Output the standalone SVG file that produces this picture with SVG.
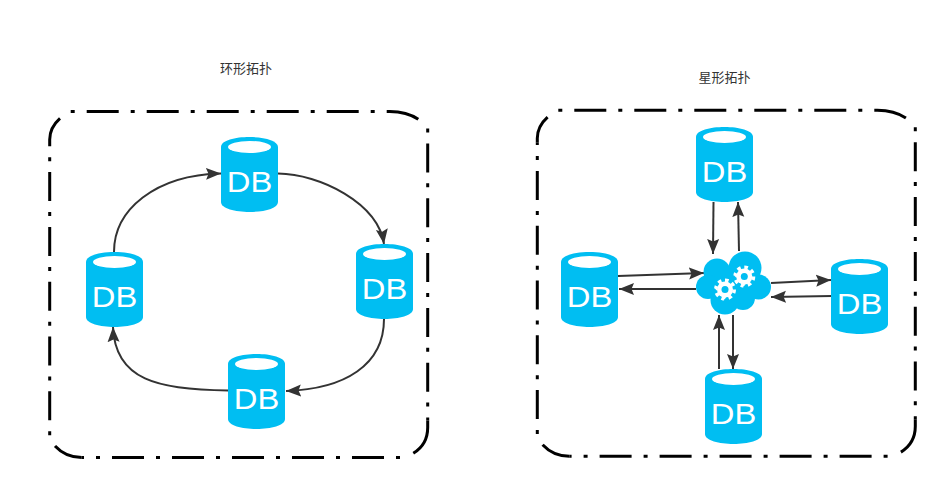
<svg xmlns="http://www.w3.org/2000/svg" width="949" height="491" viewBox="0 0 949 491">
<style>
.fh,.fv,.fc{fill:none;stroke:#000;stroke-width:3}
.fh{stroke-dasharray:4 12 32 12}
.fv{stroke-dasharray:4 11 29 10.800}
.body{fill:#00BEF2}
.hole{fill:#fff}
.dbt{font-family:"Liberation Sans",Arial,sans-serif;font-size:29px;fill:#fff;text-anchor:middle}
.cap{font-family:"Noto Sans CJK SC","Liberation Sans",sans-serif;font-size:13px;fill:#333;text-anchor:middle}
.edge{fill:none;stroke:#333;stroke-width:2;marker-end:url(#ah)}
</style>
<defs>
<marker id="ah" markerUnits="userSpaceOnUse" markerWidth="17" markerHeight="14" refX="15" refY="7" orient="auto"><path d="M0,1 L15,7 L0,13 L2.500,7 Z" fill="#333"/></marker>
<g id="db"><path class="body" d="M0,10 C0,-3.300 57,-3.300 57,10 V65 C57,78.300 0,78.300 0,65 Z"/><ellipse class="hole" cx="28.500" cy="10" rx="21.500" ry="6"/><text class="dbt" transform="translate(28.500,54.500) scale(1.130,1)">DB</text></g>
<g id="fr">
<path class="fh" d="M21,0 H337"/>
<path class="fc" d="M337,0 H340 Q357,0 368.600,7.800"/>
<path class="fv" d="M378,17 V309"/>
<path class="fc" d="M378,309 V316 Q378,333 363.600,341.800"/>
<path class="fh" d="M350.300,346 H32"/>
<path class="fc" d="M32,346 Q16,346 5.300,334.500"/>
<path class="fv" d="M0,323.800 V32.500"/>
<path class="fc" d="M0,32.500 V28 Q0,16 10.300,6.800"/>
</g>
<g id="gear"><circle r="8" fill="#fff"/><circle r="9.200" fill="none" stroke="#fff" stroke-width="3.600" pathLength="80" stroke-dasharray="5 5"/><circle r="3.500" fill="#00BEF2"/></g>
</defs>
<g id="frame-ring"><use href="#fr" x="49.700" y="111.500"/></g>
<g id="frame-star"><use href="#fr" x="537.300" y="110.300"/></g>
<g id="title-ring"><text class="cap" x="246" y="73">环形拓扑</text></g>
<g id="title-star"><text class="cap" x="724.500" y="82">星形拓扑</text></g>
<g id="connectors">
<path class="edge" d="M114,252 C114,210 155,175 221,173.500"/>
<path class="edge" d="M278,173.500 C320,174 378,203 384,244"/>
<path class="edge" d="M384,319 C384,365 345,389 286,391"/>
<path class="edge" d="M228,390.500 C158,390 115,380 113,327"/>
<path class="edge" d="M713.500,202 L713,254"/>
<path class="edge" d="M739,251 L738,202"/>
<path class="edge" d="M618,276 L704,273"/>
<path class="edge" d="M696,289 L619,289"/>
<path class="edge" d="M771,283 L831,280"/>
<path class="edge" d="M832,296 L771,297"/>
<path class="edge" d="M719,369 L719,315"/>
<path class="edge" d="M733,315 L733,369"/>
</g>
<g id="db-ring-top"><use href="#db" x="221" y="137"/></g>
<g id="db-ring-right"><use href="#db" x="356" y="244"/></g>
<g id="db-ring-bottom"><use href="#db" x="228" y="354"/></g>
<g id="db-ring-left"><use href="#db" x="86" y="252"/></g>
<g id="db-star-top"><use href="#db" x="696" y="127"/></g>
<g id="db-star-left"><use href="#db" x="561" y="252"/></g>
<g id="db-star-right"><use href="#db" x="831" y="259"/></g>
<g id="db-star-bottom"><use href="#db" x="705" y="369"/></g>
<g id="cloud">
<g fill="#00BEF2"><circle cx="745" cy="268" r="16.500"/><circle cx="717" cy="272" r="13.500"/><circle cx="708" cy="287" r="12"/><circle cx="758.500" cy="287" r="12.500"/><circle cx="725" cy="300" r="14.500"/><circle cx="743" cy="298" r="12"/><rect x="715" y="270" width="40" height="28"/></g>
<use href="#gear" transform="translate(725,289.500)"/>
<use href="#gear" transform="translate(744.300,276.500)"/>
</g>
</svg>
